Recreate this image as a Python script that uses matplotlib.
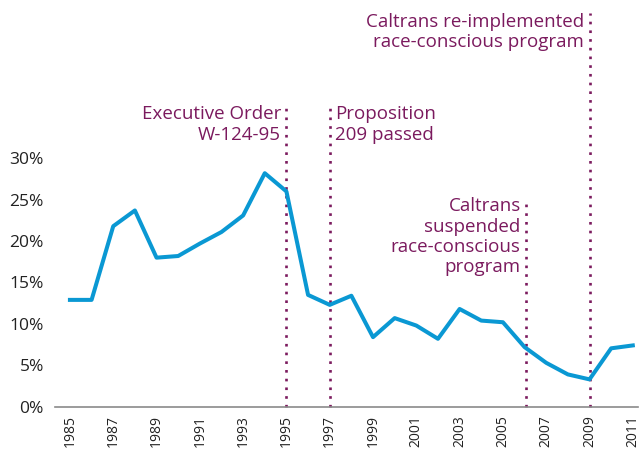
import matplotlib
matplotlib.use("Agg")
import matplotlib.pyplot as plt

years = list(range(1985, 2012))
values = [12.9, 12.9, 21.8, 23.7, 18.0, 18.2, 19.7, 21.1, 23.1, 28.2, 26.0, 13.5,
          12.3, 13.4, 8.4, 10.7, 9.8, 8.2, 11.8, 10.4, 10.2, 7.2, 5.3, 3.9, 3.3, 7.05, 7.4]
yticks = [0, 5, 10, 15, 20, 25, 30]
ytick_labels = ["0%", "5%", "10%", "15%", "20%", "25%", "30%"]
xticks = list(range(1985, 2012, 2))

events = [
    (1995, "Executive Order\nW-124-95", "right", 36.6),
    (1997, "Proposition\n209 passed", "left", 36.6),
    (2006.07, "Caltrans\nsuspended\nrace-conscious\nprogram", "right", 25.0),
    (2009, "Caltrans re-implemented\nrace-conscious program", "right", 47.5),
]

purple = "#7b1a5e"
blue = "#0a98d3"

plt.rcParams['font.family'] = ['Open Sans', 'DejaVu Sans']
fig = plt.figure(figsize=(6.41, 4.54), dpi=100)
ax = fig.add_axes([55/641, (454-406.7)/454, (638-55)/641, (406.7-158.3)/454])
ax.set_xlim(1984.31, 2011.24)
ax.set_ylim(0, 30)

for x, label, ha, top in events:
    ax.plot([x, x], [0, top], color=purple, lw=1.9, linestyle=(0, (1, 2.3)),
            clip_on=False, zorder=1)

ax.plot(years, values, color=blue, lw=2.9, zorder=3, clip_on=False)

fs = 13.5
ls = 1.17
ax.text(1995 - 0.25, 36.4, events[0][1], ha="right", va="top", color=purple,
        fontsize=fs, linespacing=ls)
ax.text(1997 + 0.25, 36.4, events[1][1], ha="left", va="top", color=purple,
        fontsize=fs, linespacing=ls)
ax.text(2006.07 - 0.25, 25.3, events[2][1], ha="right", va="top", color=purple,
        fontsize=fs, linespacing=ls)
ax.text(2009 - 0.25, 47.6, events[3][1], ha="right", va="top", color=purple,
        fontsize=fs, linespacing=ls)

for s in ["left", "right", "top"]:
    ax.spines[s].set_visible(False)
ax.spines["bottom"].set_color("#8a8a8a")
ax.spines["bottom"].set_linewidth(1.2)

ax.set_yticks(yticks)
ax.set_yticklabels(ytick_labels, fontsize=12.5, color="#222222")
ax.set_xticks(xticks)
ax.set_xticklabels([str(x) for x in xticks], rotation=90, fontsize=10, color="#222222")
ax.tick_params(axis="both", length=0)
ax.tick_params(axis="y", pad=8)
ax.tick_params(axis="x", pad=6)

fig.savefig("out.png", dpi=100)
